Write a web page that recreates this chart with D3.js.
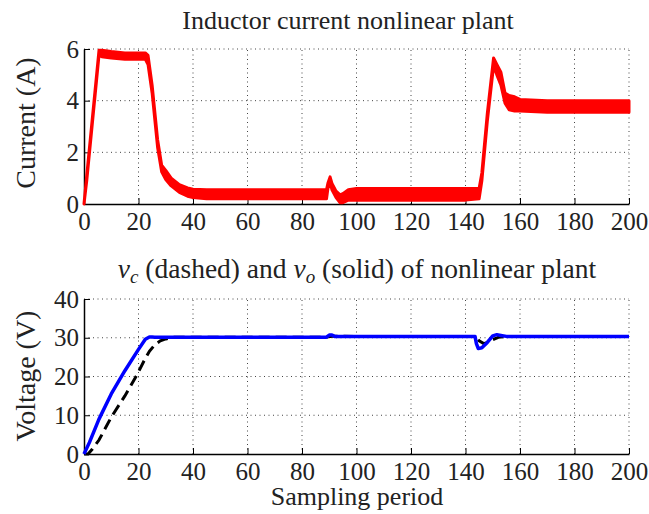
<!DOCTYPE html>
<html>
<head>
<meta charset="utf-8">
<script src="https://cdn.jsdelivr.net/npm/d3@7"></script>
<style>
  body { margin: 0; background: #fff; }
  text { font-family: "Liberation Serif", "Times New Roman", serif; fill: #222; }
</style>
</head>
<body>
<div id="chart"></div>
<script>
// inductor current, drawn as a noisy band (lower / upper envelope)
const xCur  = [0, 1, 5.5, 6.5, 10, 15, 20, 22.5, 23.5, 25, 27, 28.5, 30, 32, 35, 38, 40, 45, 60, 80, 89, 89.5, 90.3, 91, 92.5, 94, 95, 97, 100, 120, 140, 145, 146, 148, 150.3, 151.5, 153, 154.5, 156, 158, 160, 170, 185, 200];
const curLo = [0, 0.9, 5.75, 5.7, 5.65, 5.6, 5.6, 5.6, 5.4, 4.3, 2.2, 1.25, 0.95, 0.7, 0.45, 0.3, 0.25, 0.2, 0.2, 0.2, 0.2, 0.6, 0.85, 0.55, 0.25, 0.05, 0.05, 0.15, 0.15, 0.15, 0.15, 0.2, 0.9, 3.2, 5.35, 5.0, 4.6, 3.9, 3.65, 3.6, 3.6, 3.55, 3.55, 3.55];
const curHi = [0, 1.1, 5.95, 5.95, 5.9, 5.85, 5.85, 5.85, 5.75, 4.6, 2.5, 1.5, 1.3, 1.0, 0.75, 0.62, 0.57, 0.55, 0.55, 0.55, 0.55, 0.8, 1.05, 0.8, 0.5, 0.35, 0.4, 0.55, 0.6, 0.6, 0.6, 0.6, 1.2, 3.5, 5.65, 5.4, 5.1, 4.3, 4.2, 4.15, 4.05, 4.0, 4.0, 4.0];

// output voltage v_o (solid blue)
const xVo = [0, 2, 5.5, 10, 15, 20, 22.5, 24, 25, 26, 40, 60, 89, 90, 91, 92, 100, 143.5, 144, 144.7, 146, 148, 150, 151.5, 153, 155, 170, 200];
const vo  = [0, 3, 9, 15.5, 21.5, 27, 29.6, 30.2, 30.2, 30.15, 30.15, 30.15, 30.15, 30.7, 30.7, 30.35, 30.35, 30.35, 28.5, 27.2, 27.4, 28.8, 30.5, 30.8, 30.6, 30.35, 30.35, 30.35];

// capacitor voltage v_c (dashed black)
const xVc = [0, 1.5, 3, 5.5, 10, 15, 19.5, 22, 24, 26, 28, 30, 33, 40, 89, 91, 100, 143.5, 145, 146.7, 148.5, 150, 152, 155, 200];
const vc  = [0, 0, 1.2, 3.6, 9.5, 15, 20.5, 24, 26.5, 28.2, 29.2, 29.7, 30.1, 30.15, 30.15, 30.4, 30.35, 30.35, 29.2, 28.5, 28.9, 29.5, 30.1, 30.35, 30.35];

const xTicks = [0, 20, 40, 60, 80, 100, 120, 140, 160, 180, 200];
const curTicks = [0, 2, 4, 6];
const voltTicks = [0, 10, 20, 30, 40];

const width = 649, height = 514;
const left = 84, right = 629;

const svg = d3.select('#chart')
    .append('svg')
    .attr('width', width)
    .attr('height', height);

const xScale = d3.scaleLinear().domain([0, 200]).range([left, right]);

const drawPanel = (yScale, yTicks) => {
    const [y0, y1] = yScale.range();
    const g = svg.append('g');

    // dotted grid
    g.selectAll('.vgrid')
        .data(xTicks.filter(d => d > 0))
        .join('line')
            .attr('x1', d => xScale(d)).attr('x2', d => xScale(d))
            .attr('y1', y0).attr('y2', y1)
            .attr('stroke', '#444').attr('stroke-width', 1)
            .attr('stroke-dasharray', '1,3.5');
    g.selectAll('.hgrid')
        .data(yTicks.filter(d => d > 0))
        .join('line')
            .attr('x1', left).attr('x2', right)
            .attr('y1', d => yScale(d)).attr('y2', d => yScale(d))
            .attr('stroke', '#444').attr('stroke-width', 1)
            .attr('stroke-dasharray', '1,3.5');

    // axes, ticks inside
    g.append('g')
        .attr('transform', `translate(0, ${y0})`)
        .call(d3.axisBottom(xScale).tickValues(xTicks).tickFormat(d3.format('d'))
            .tickSizeInner(-6).tickSizeOuter(0).tickPadding(10))
        .call(a => a.select('.domain').attr('stroke', '#000').attr('stroke-width', 1.5))
        .call(a => a.selectAll('text').attr('font-size', 25).attr('fill', '#222').attr('dy', '0.62em'));
    g.append('g')
        .attr('transform', `translate(${left}, 0)`)
        .call(d3.axisLeft(yScale).tickValues(yTicks).tickFormat(d3.format('d'))
            .tickSizeInner(-6).tickSizeOuter(0).tickPadding(5))
        .call(a => a.select('.domain').attr('stroke', '#000').attr('stroke-width', 1.5))
        .call(a => a.selectAll('text').attr('font-size', 25).attr('fill', '#222'));
    return g;
};

// ---- top panel: inductor current
const yCur = d3.scaleLinear().domain([0, 6]).range([204, 49]);
const gTop = drawPanel(yCur, curTicks);

const curData = xCur.map((x, i) => ({ x, lo: curLo[i], hi: curHi[i] }));
gTop.append('path')
    .datum(curData)
    .attr('d', d3.area().x(d => xScale(d.x)).y0(d => yCur(d.lo)).y1(d => yCur(d.hi)))
    .attr('fill', '#ff0000')
    .attr('stroke', '#ff0000')
    .attr('stroke-width', 3)
    .attr('stroke-linejoin', 'round');

svg.append('text')
    .text('Inductor current nonlinear plant')
    .attr('x', 348).attr('y', 29)
    .attr('text-anchor', 'middle')
    .attr('font-size', 26);

svg.append('text')
    .text('Current (A)')
    .attr('text-anchor', 'middle')
    .attr('transform', 'rotate(-90)')
    .attr('x', -123).attr('y', 35)
    .attr('font-size', 28);

// ---- bottom panel: voltages
const yVolt = d3.scaleLinear().domain([0, 40]).range([454, 299]);
const gBot = drawPanel(yVolt, voltTicks);

const line = d3.line().x(d => xScale(d[0])).y(d => yVolt(d[1]));

gBot.append('path')
    .datum(xVc.map((x, i) => [x, vc[i]]))
    .attr('d', line)
    .attr('fill', 'none')
    .attr('stroke', '#000')
    .attr('stroke-width', 3)
    .attr('stroke-dasharray', '11,6');

gBot.append('path')
    .datum(xVo.map((x, i) => [x, vo[i]]))
    .attr('d', line)
    .attr('fill', 'none')
    .attr('stroke', '#0000ff')
    .attr('stroke-width', 3.5)
    .attr('stroke-linejoin', 'round');

const t2 = svg.append('text')
    .attr('x', 357).attr('y', 278)
    .attr('text-anchor', 'middle')
    .attr('font-size', 27.5);
t2.append('tspan').attr('font-style', 'italic').text('v');
t2.append('tspan').attr('font-style', 'italic').attr('font-size', 19).attr('dy', 5).text('c');
t2.append('tspan').attr('dy', -5).text(' (dashed) and ');
t2.append('tspan').attr('font-style', 'italic').text('v');
t2.append('tspan').attr('font-style', 'italic').attr('font-size', 19).attr('dy', 5).text('o');
t2.append('tspan').attr('dy', -5).text(' (solid) of nonlinear plant');

svg.append('text')
    .text('Voltage (V)')
    .attr('text-anchor', 'middle')
    .attr('transform', 'rotate(-90)')
    .attr('x', -376).attr('y', 35)
    .attr('font-size', 28);

svg.append('text')
    .text('Sampling period')
    .attr('x', 357).attr('y', 505)
    .attr('text-anchor', 'middle')
    .attr('font-size', 26);
</script>
</body>
</html>
